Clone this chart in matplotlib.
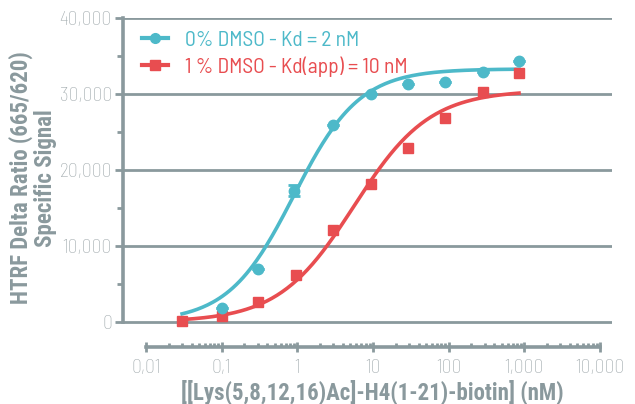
import matplotlib
matplotlib.use("Agg")
import matplotlib.pyplot as plt
import matplotlib.ticker as mticker
import numpy as np

# concentrations (nM) and specific signal
conc_blue = [0.1, 0.3, 0.9, 3, 9.5, 29, 90, 280, 850]
sig_blue = [1900, 7000, 17300, 25900, 30000, 31300, 31600, 32900, 34400]
err_blue = [0, 0, 700, 0, 0, 0, 0, 0, 0]

conc_red = [0.03, 0.1, 0.3, 0.95, 3, 9.5, 29, 90, 280, 850]
sig_red = [100, 800, 2600, 6200, 12100, 18200, 22900, 26800, 30300, 32800]

# 4PL fit parameters (bottom, top, EC50, hill)
fit_blue = (0, 33300, 0.9, 1.0)
fit_red = (0, 30500, 5.6, 0.87)

labels = ["0% DMSO - Kd = 2 nM", "1 % DMSO - Kd(app) = 10 nM"]
xticks = [0.01, 0.1, 1, 10, 100, 1000, 10000]
xticklabels = ["0,01", "0,1", "1", "10", "100", "1,000", "10,000"]
yticks = [0, 10000, 20000, 30000, 40000]

BLUE = "#4db9c9"
RED = "#e84d50"
AX = "#8a999d"
TXT = "#a3acaf"

plt.rcParams['font.family'] = ['Barlow Semi Condensed', 'DejaVu Sans']
LABEL_FONT = ['Roboto Condensed', 'DejaVu Sans']


def fourpl(x, p):
    b, t, c, h = p
    return b + (t - b) / (1 + (c / x) ** h)


fig = plt.figure(figsize=(6.35, 4.04), dpi=100)
ax = fig.add_axes([123/635, 1 - 347/404, (612-123)/635, (347-18)/404])

xs = np.logspace(np.log10(0.03), np.log10(850), 200)
ax.plot(xs, fourpl(xs, fit_blue), color=BLUE, lw=2.6, zorder=3)
ax.plot(xs, fourpl(xs, fit_red), color=RED, lw=2.6, zorder=3)

ax.errorbar(conc_blue, sig_blue, yerr=err_blue, fmt="o", color=BLUE, ms=7.5,
            capsize=4, elinewidth=2, capthick=2, zorder=4)
ax.plot(conc_red, sig_red, "s", color=RED, ms=7.5, zorder=4)

h1, = ax.plot([], [], "-o", color=BLUE, lw=3, ms=7)
h2, = ax.plot([], [], "-s", color=RED, lw=3, ms=7)
leg = ax.legend([h1, h2], labels, loc="upper left", bbox_to_anchor=(0.0, 1.02),
                frameon=False, fontsize=15.5, handlelength=1.2, handletextpad=0.8,
                labelspacing=0.3)
for t, c in zip(leg.get_texts(), [BLUE, RED]):
    t.set_color(c)

ax.set_xscale("log")
ax.set_xlim(10 ** -2.304, 10 ** 4.158)
ax.set_ylim(-3290, 40000)

for y in yticks:
    ax.axhline(y, color=AX, lw=2, zorder=1)

ax.spines["top"].set_visible(False)
ax.spines["right"].set_visible(False)
ax.spines["left"].set_bounds(0, 40000)
ax.spines["bottom"].set_bounds(0.01, 10000)
for s in ("left", "bottom"):
    ax.spines[s].set_color(AX)
    ax.spines[s].set_linewidth(2.6)

ax.set_yticks(yticks)
ax.set_yticklabels(["{:,}".format(v) for v in yticks])
ax.yaxis.set_minor_locator(mticker.MultipleLocator(5000))
ax.set_xticks(xticks)
ax.set_xticklabels(xticklabels)
minors = [m * 10.0 ** e for e in range(-2, 4) for m in range(2, 10)]
ax.xaxis.set_minor_locator(mticker.FixedLocator(minors))
ax.xaxis.set_minor_formatter(mticker.NullFormatter())

ax.tick_params(axis="y", which="major", length=6, width=2, color=AX,
               labelcolor=TXT, labelsize=14, pad=2)
ax.tick_params(axis="y", which="minor", length=4, width=2, color=AX)
ax.tick_params(axis="x", which="major", direction="inout", length=7, width=2,
               color=AX, labelcolor=TXT, labelsize=14, pad=5)
ax.tick_params(axis="x", which="minor", direction="in", length=3, width=2, color=AX)
for lab in ax.get_xticklabels() + ax.get_yticklabels():
    lab.set_fontweight("light")

ax.set_xlabel("[[Lys(5,8,12,16)Ac]-H4(1-21)-biotin] (nM)", color=AX,
              fontsize=16.5, fontweight="bold", family=LABEL_FONT, va="center")
ax.xaxis.set_label_coords((372 - 123) / (612 - 123), -45 / 329)
fig.text(33/635, 1 - 178/404, "HTRF Delta Ratio (665/620)\nSpecific Signal",
         rotation=90, ha="center", va="center", color=AX, fontsize=16.5,
         fontweight="bold", linespacing=1.05, family=LABEL_FONT)

fig.savefig("out.png", dpi=100)
